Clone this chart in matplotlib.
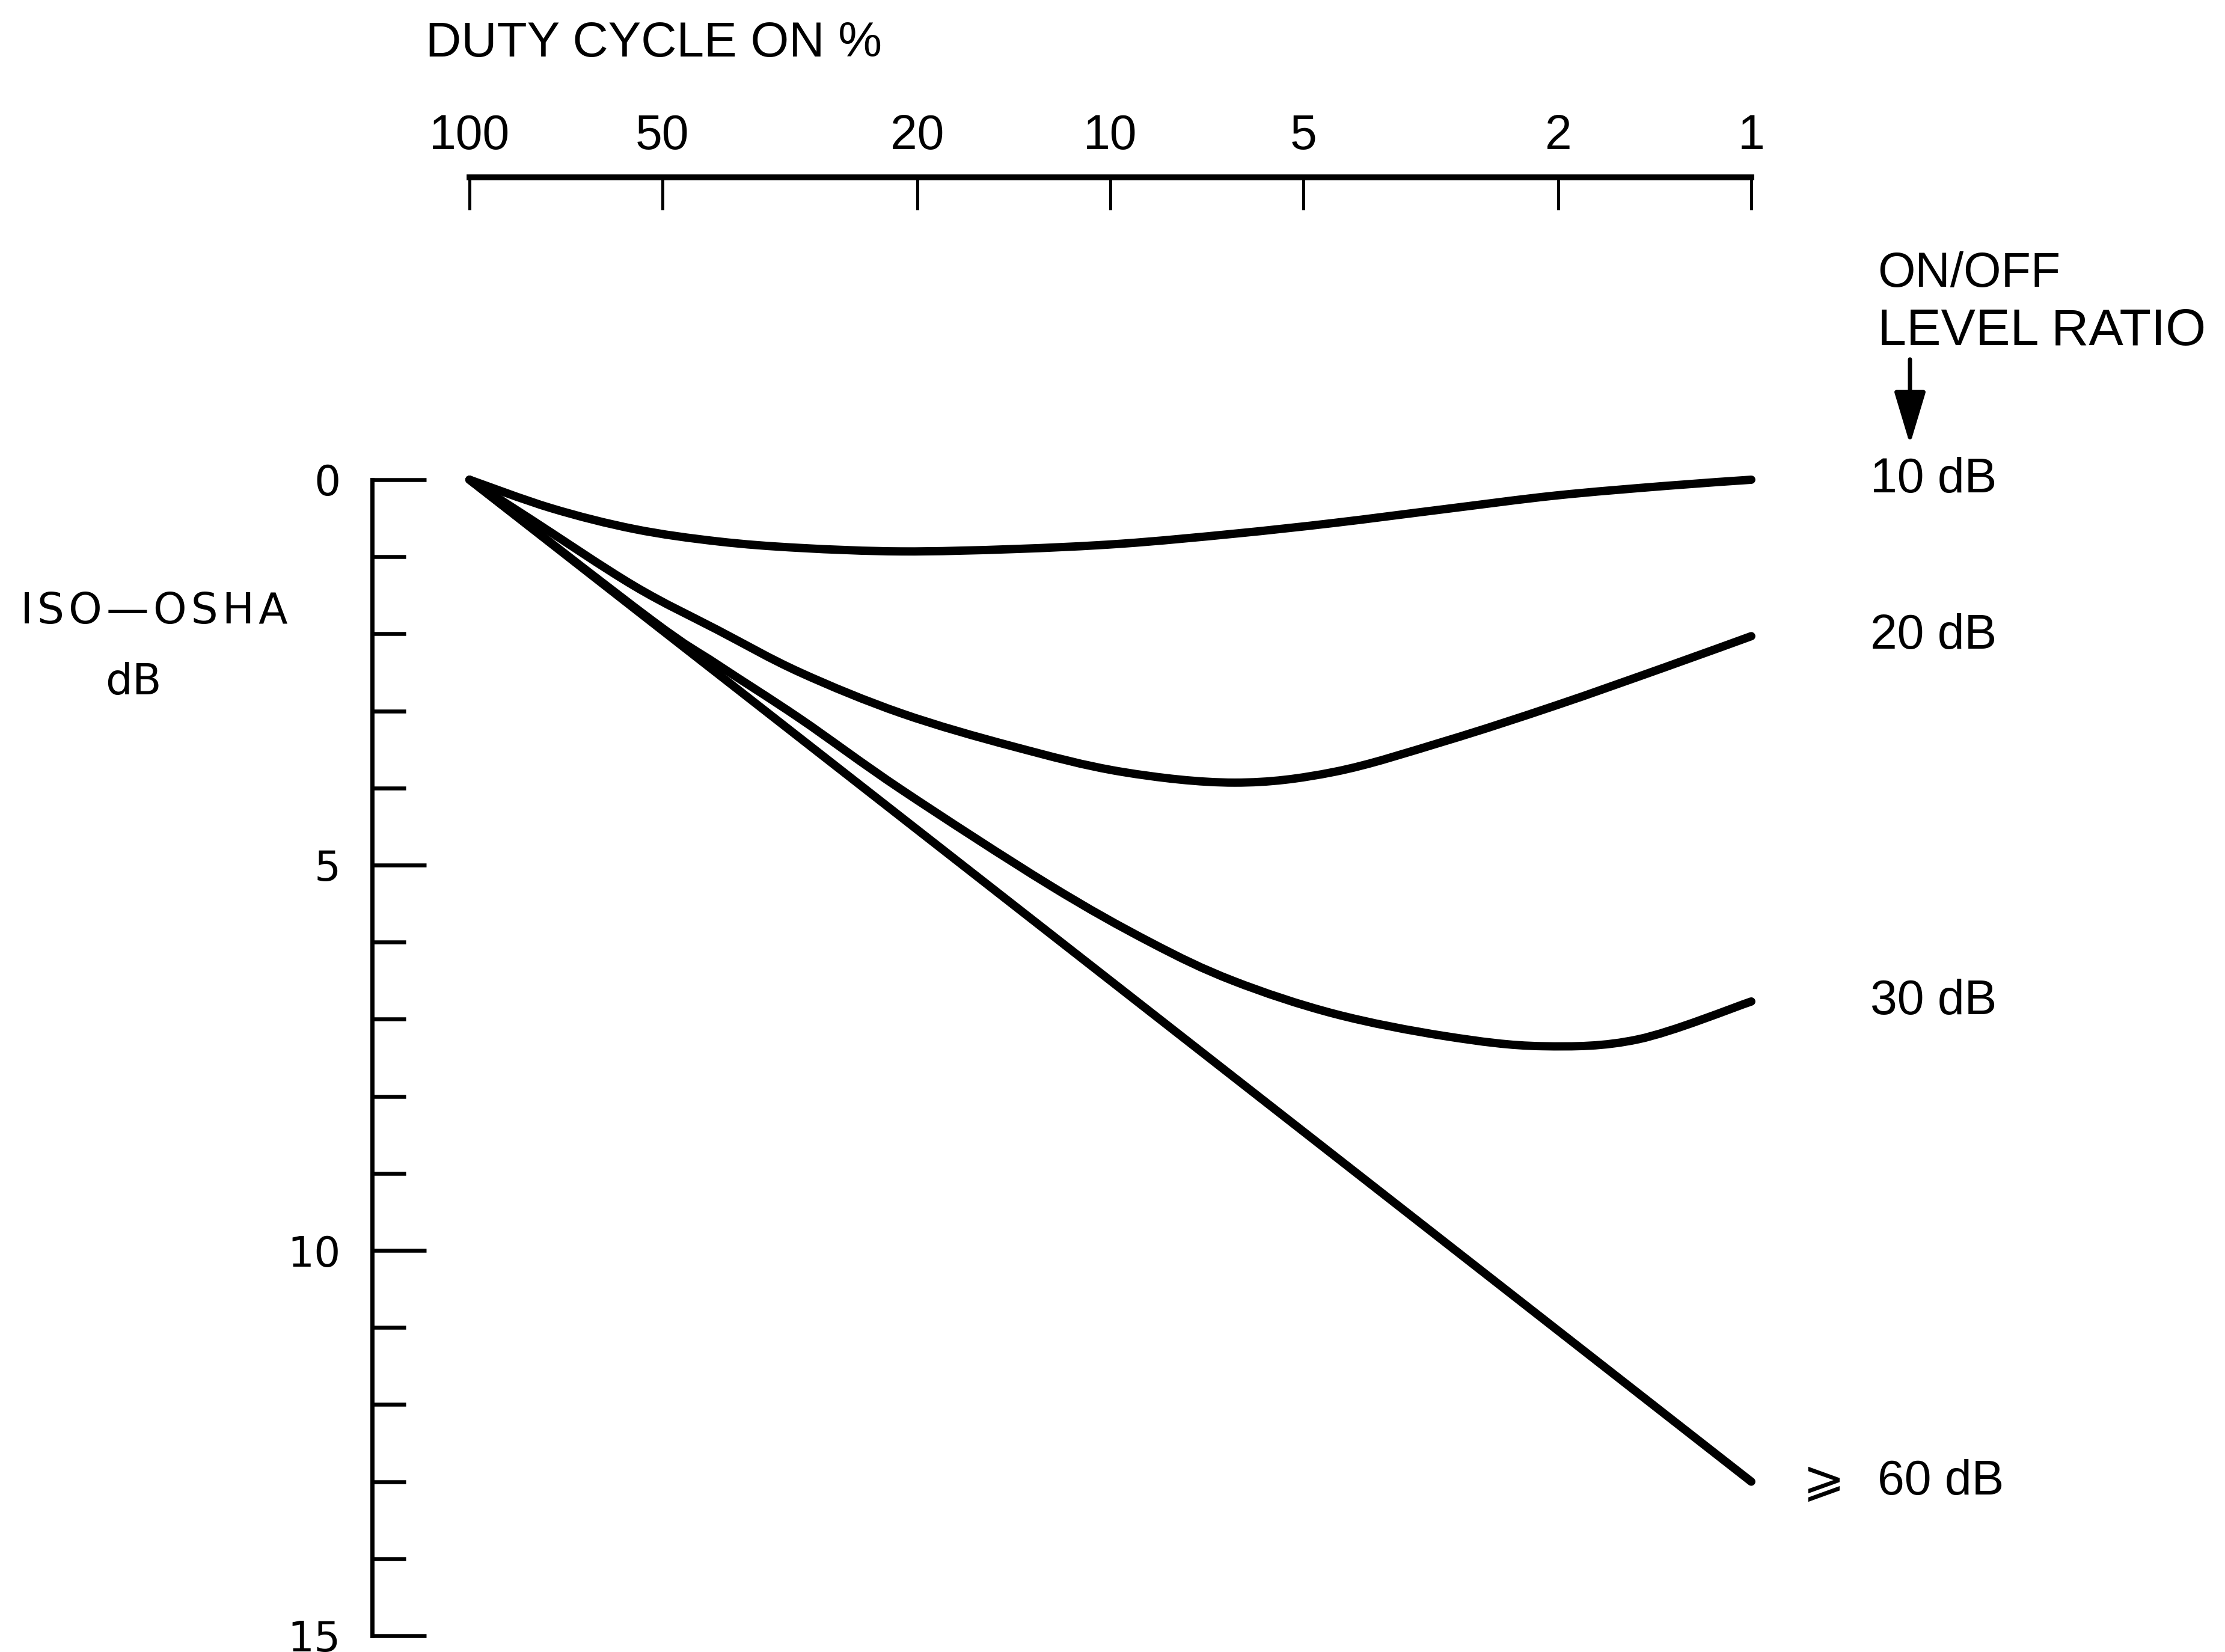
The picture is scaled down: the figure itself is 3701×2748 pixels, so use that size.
import matplotlib
matplotlib.use('Agg')
import numpy as np
import matplotlib.pyplot as plt
from matplotlib import font_manager, transforms
from matplotlib.path import Path
from matplotlib.patches import PathPatch
from matplotlib.ticker import FixedLocator, NullLocator

# duty cycle (% on) and ISO-OSHA dB, one pair of lists per curve
duty_10 = [100, 74.5, 55.3, 41, 30.5, 21.2, 14.2, 9.6, 6.4, 4.47, 3.0, 2.02, 1.36, 1.0]
db_10 = [0, 0.37, 0.64, 0.80, 0.885, 0.93, 0.90, 0.83, 0.70, 0.56, 0.38, 0.205, 0.08, 0]

duty_20 = [100, 80, 55.3, 41, 30.5, 21.2, 14.2, 9.6, 6.4, 4.47, 3.0, 2.02, 1.36, 1.0]
db_20 = [0, 0.52, 1.38, 1.95, 2.50, 3.03, 3.46, 3.79, 3.93, 3.79, 3.39, 2.93, 2.43, 2.03]

duty_30 = [100, 52, 41, 30.5, 21.2, 12.5, 8.67, 6.44, 4.47, 3.0, 2.12, 1.5, 1.0]
db_30 = [0, 1.82, 2.40, 3.10, 4.02, 5.25, 6.0, 6.5, 6.93, 7.22, 7.35, 7.26, 6.77]

duty_60 = [100, 1]
db_60 = [0, 13]

curve_labels = ['10 dB', '20 dB', '30 dB', '60 dB']
duty_ticks = [100, 50, 20, 10, 5, 2, 1]
db_major = [0, 5, 10, 15]
db_minor = [1, 2, 3, 4, 6, 7, 8, 9, 11, 12, 13, 14]

W, H = 3701, 2748
names = {f.name for f in font_manager.fontManager.ttflist}
narrow = 'Liberation Sans Narrow' if 'Liberation Sans Narrow' in names else 'Liberation Sans'
wide = 'DejaVu Sans'


def fx(px):
    return px / W


def fy(py):
    return 1 - py / H


def curve_path(xs, ys):
    # hand-drawn look: bezier through the read points (catmull-rom in log-x space)
    pts = np.column_stack([np.log10(xs), ys])
    n = len(pts)
    verts = [pts[0]]
    codes = [Path.MOVETO]
    for i in range(n - 1):
        p0 = pts[i - 1] if i > 0 else pts[i]
        p1, p2 = pts[i], pts[i + 1]
        p3 = pts[i + 2] if i + 2 < n else pts[i + 1]
        verts += [p1 + (p2 - p0) / 6, p2 - (p3 - p1) / 6, p2]
        codes += [Path.CURVE4] * 3
    verts = np.array(verts)
    verts[:, 0] = 10 ** verts[:, 0]
    return Path(verts, codes)


fig = plt.figure(figsize=(W / 100, H / 100), dpi=100)
fig.patch.set_facecolor('white')
ax = fig.add_axes([fx(781), fy(2721), fx(2913) - fx(781), fy(798) - fy(2721)])
ax.set_xscale('log')
ax.set_xlim(100, 1)
ax.set_ylim(15, 0)

for d, v in [(duty_10, db_10), (duty_20, db_20), (duty_30, db_30), (duty_60, db_60)]:
    ax.add_patch(PathPatch(curve_path(d, v), fill=False, edgecolor='black', lw=10,
                           capstyle='round', joinstyle='round', clip_on=False))

# axes: duty cycle on top, dB on the left, both pushed away from the curves
ax.spines['bottom'].set_visible(False)
ax.spines['right'].set_visible(False)
ax.spines['top'].set_position(('outward', 362))
ax.spines['top'].set_bounds(1, 100)
ax.spines['top'].set_linewidth(7)
ax.spines['left'].set_position(('outward', 117))
ax.spines['left'].set_bounds(0, 15)
ax.spines['left'].set_linewidth(5)

ax.xaxis.set_ticks_position('top')
ax.xaxis.set_major_locator(FixedLocator(duty_ticks))
ax.xaxis.set_minor_locator(NullLocator())
ax.set_xticklabels([str(t) for t in duty_ticks], fontfamily=narrow)
ax.tick_params(axis='x', which='major', direction='in', length=39, width=3.6,
               pad=22, labelsize=58)

ax.yaxis.set_major_locator(FixedLocator(db_major))
ax.yaxis.set_minor_locator(FixedLocator(db_minor))
ax.set_yticklabels([str(t) for t in db_major], fontfamily=wide)
ax.tick_params(axis='y', which='major', direction='in', length=65, width=4.7,
               pad=37, labelsize=50)
ax.tick_params(axis='y', which='minor', direction='in', length=40, width=4.7)

# text
fig.text(fx(708), fy(73), 'DUTY CYCLE ON %', fontsize=59, fontfamily=narrow,
         ha='left', va='center')
fig.text(fx(256), fy(1017), '\u200a'.join('ISO\u2014OSHA'),
         fontsize=51, fontfamily=wide, ha='center', va='center')
fig.text(fx(222), fy(1135), 'dB', fontsize=51, fontfamily=wide,
         ha='center', va='center')
fig.text(fx(3123), fy(456), 'ON/OFF', fontsize=58, fontfamily=narrow,
         ha='left', va='center')
fig.text(fx(3123), fy(552), 'LEVEL RATIO', fontsize=62, fontfamily=narrow,
         ha='left', va='center')
ax.annotate('', xy=(fx(3177), fy(742)), xytext=(fx(3177), fy(595)),
            xycoords='figure fraction', textcoords='figure fraction',
            arrowprops=dict(arrowstyle='-|>,head_length=0.9,head_width=0.27',
                            lw=5, color='black', mutation_scale=60))

lab_tr = transforms.blended_transform_factory(fig.transFigure, ax.transData)
ends = [db_10[-1], db_20[-1], db_30[-1], db_60[-1]]
for lab, y in zip(curve_labels, ends):
    x = 3123 if lab == '60 dB' else 3111
    ax.text(fx(x), y, lab, transform=lab_tr, fontsize=58, fontfamily=narrow,
            ha='left', va='center', clip_on=False)
ax.text(fx(2998), db_60[-1], '\u2a7e', transform=lab_tr, fontsize=60, fontfamily=wide,
        ha='left', va='center', clip_on=False)

fig.savefig('out.png', dpi=100, facecolor='white')
